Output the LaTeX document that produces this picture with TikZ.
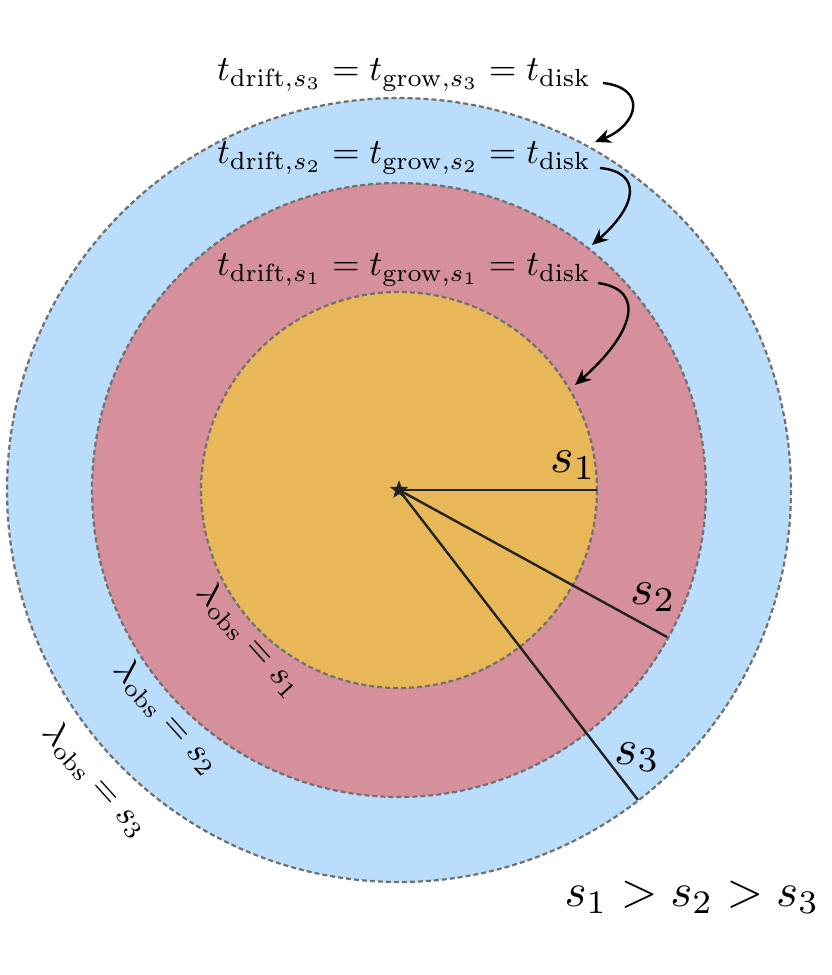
\documentclass[tikz,border=0pt]{standalone}
\usetikzlibrary{arrows.meta,shapes.geometric}
\definecolor{outerc}{HTML}{BADDFB}
\definecolor{midc}{HTML}{D6909B}
\definecolor{innerc}{HTML}{E8B858}
\definecolor{edgec}{HTML}{707070}
\definecolor{radc}{HTML}{222222}
\tikzset{
  ring/.style={draw=edgec, line width=2.2pt, dash pattern=on 5pt off 3pt},
  radline/.style={draw=radc, line width=2.4pt},
  toplab/.style={inner sep=0pt, scale=3.55},
  lamlab/.style={inner sep=0pt, scale=3.5},
  slab/.style={inner sep=0pt, scale=5.0},
  ordlab/.style={inner sep=0pt, scale=4.7},
  curvarrow/.style={draw=black, line width=2.4pt, -{Stealth[length=16pt,width=14pt]}},
}
\begin{document}
\begin{tikzpicture}[x=1pt,y=-1pt]
\useasboundingbox (0,0) rectangle (831,975);
\coordinate (c) at (399,490);
\fill[outerc] (c) circle (392);
\fill[midc] (c) circle (307);
\fill[innerc] (c) circle (198);
\draw[ring] (c) circle (392);
\draw[ring] (c) circle (307);
\draw[ring] (c) circle (198);
% radius lines
\coordinate (r1) at (597,490);
\coordinate (r2) at (667,637);
\coordinate (r3) at (638,800);
\draw[radline] (c) -- (r1);
\draw[radline] (c) -- (r2);
\draw[radline] (c) -- (r3);
\node[star, star points=5, star point ratio=2.4, fill=radc, draw=radc, inner sep=0pt, minimum size=18pt] (ctr) at (c) {};
\node[slab] (s1) at (573,465) {$s_1$};
\node[slab] (s2) at (653,597) {$s_2$};
\node[slab] (s3) at (637,757) {$s_3$};
\node[ordlab] (ord) at (692,897) {$s_1>s_2>s_3$};
% top labels
\node[toplab] (l3) at (404,75) {$t_{\mathrm{drift},s_3}=t_{\mathrm{grow},s_3}=t_{\mathrm{disk}}$};
\node[toplab] (l2) at (404,158) {$t_{\mathrm{drift},s_2}=t_{\mathrm{grow},s_2}=t_{\mathrm{disk}}$};
\node[toplab] (l1) at (404,270) {$t_{\mathrm{drift},s_1}=t_{\mathrm{grow},s_1}=t_{\mathrm{disk}}$};
\coordinate (a3s) at (603,83);
\coordinate (a3e) at (595,142);
\coordinate (a2s) at (600,168);
\coordinate (a2e) at (592,245);
\coordinate (a1s) at (598,283);
\coordinate (a1e) at (575,385);
\draw[curvarrow] (a3s) .. controls (648,88) and (638,125) .. (a3e);
\draw[curvarrow] (a2s) .. controls (642,172) and (638,205) .. (a2e);
\draw[curvarrow] (a1s) .. controls (648,290) and (632,335) .. (a1e);
% lambda labels
\node[lamlab, rotate=-48] (k1) at (250,640) {$\lambda_{\mathrm{obs}}=s_1$};
\node[lamlab, rotate=-48] (k2) at (167,717) {$\lambda_{\mathrm{obs}}=s_2$};
\node[lamlab, rotate=-48] (k3) at (96,780) {$\lambda_{\mathrm{obs}}=s_3$};
\end{tikzpicture}
\end{document}
